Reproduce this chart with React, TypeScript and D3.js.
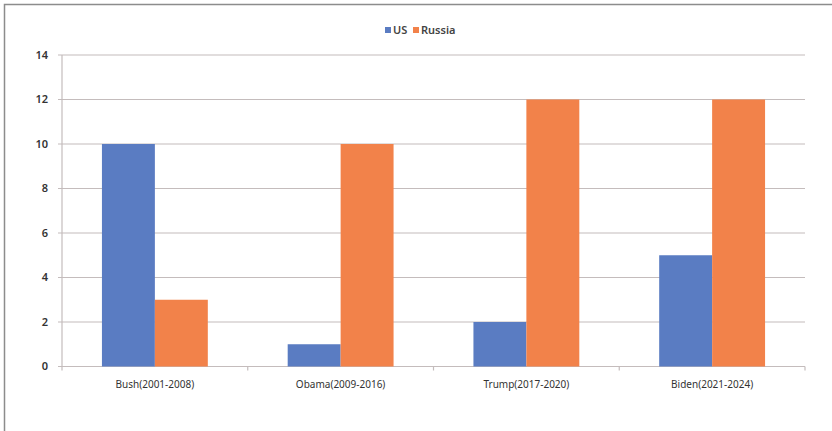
import React from "react";
import * as d3 from "d3";

const categories = ["Bush(2001-2008)", "Obama(2009-2016)", "Trump(2017-2020)", "Biden(2021-2024)"];
const seriesNames = ["US", "Russia"];
const usValues = [10, 1, 2, 5];
const russiaValues = [3, 10, 12, 12];
const yTicks = [0, 2, 4, 6, 8, 10, 12, 14];

const colors: Record<string, string> = { US: "#5a7cc2", Russia: "#f2824a" };

export default function App() {
  const W = 832, H = 431;
  const left = 62, right = 805, top = 55, bottom = 366.5;
  const x0 = d3.scaleBand<string>().domain(categories).range([left, right]).paddingInner(0.43).paddingOuter(0.215);
  const x1 = d3.scaleBand<string>().domain(seriesNames).range([0, x0.bandwidth()]);
  const y = d3.scaleLinear().domain([0, 14]).range([bottom, top]);
  const values: Record<string, number[]> = { US: usValues, Russia: russiaValues };
  const font = "'Noto Sans', 'DejaVu Sans', sans-serif";
  const gridColor = "#c4bcbc";
  const boundaries = d3.range(categories.length + 1).map(i => left + (i * (right - left)) / categories.length);

  return (
    <svg width={W} height={H} style={{ position: "absolute", left: 0, top: 0, background: "#fff" }} fontFamily={font}>
      <rect x={4.5} y={4.5} width={900} height={500} fill="none" stroke="#8c8c8c" strokeWidth={1.5} />
      {yTicks.map(t => (
        <g key={t}>
          <line x1={left - 4} x2={right} y1={y(t)} y2={y(t)} stroke={gridColor} strokeWidth={1.2} />
          <text x={48} y={y(t)} dy="0.35em" textAnchor="end" fontSize={11} fontWeight={600} fill="#333">{t}</text>
        </g>
      ))}
      <line x1={left} x2={left} y1={top} y2={bottom} stroke={gridColor} strokeWidth={1.2} />
      {boundaries.map((b, i) => (
        <line key={i} x1={b} x2={b} y1={bottom} y2={bottom + 4} stroke={gridColor} strokeWidth={1.2} />
      ))}
      {categories.map((c, ci) => (
        <g key={c} transform={`translate(${x0(c)},0)`}>
          {seriesNames.map(s => (
            <rect key={s} x={x1(s)} y={y(values[s][ci])} width={x1.bandwidth()} height={bottom - y(values[s][ci])} fill={colors[s]} />
          ))}
        </g>
      ))}
      {categories.map(c => (
        <text key={c} x={(x0(c) as number) + x0.bandwidth() / 2} y={384} dy="0.35em" textAnchor="middle" fontSize={10} fill="#333">{c}</text>
      ))}
      <g>
        <rect x={385} y={27} width={6} height={6} fill={colors.US} />
        <text x={393} y={30} dy="0.35em" fontSize={11} fontWeight={600} fill="#444">US</text>
        <rect x={413} y={27} width={6} height={6} fill={colors.Russia} />
        <text x={421} y={30} dy="0.35em" fontSize={11} fontWeight={600} fill="#444">Russia</text>
      </g>
    </svg>
  );
}
